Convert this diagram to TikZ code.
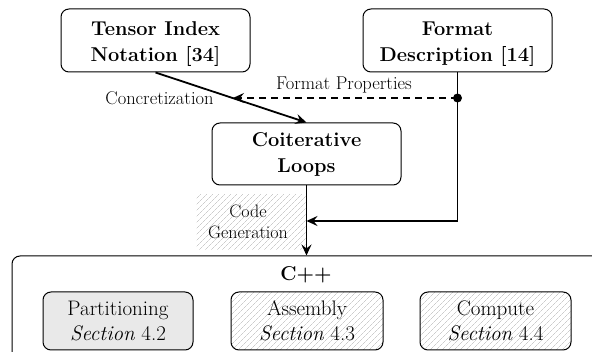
\documentclass[tikz,border=0pt]{standalone}
\usepackage{fontspec}
\usetikzlibrary{arrows.meta,patterns.meta}
\begin{document}
\begin{tikzpicture}[x=1pt,y=-1pt,
  box/.style={draw, rounded corners=8pt, line width=1pt, align=center, inner sep=0pt},
  bigbox/.style={box, minimum width=189pt, minimum height=63pt},
  bigtext/.style={align=center, inner sep=0pt, font=\fontsize{20}{26.5}\selectfont\bfseries},
  subbox/.style={box, minimum height=58pt, font=\fontsize{21}{24.5}\selectfont},
  hatch/.style={pattern={Lines[angle=45,distance=4pt,line width=0.45pt]}, pattern color=gray!60},
  lbl/.style={font=\fontsize{18.5}{21}\selectfont, inner sep=0pt},
  arr/.style={line width=1.8pt, -{Stealth[length=11pt,width=10pt,inset=4pt]}},
]
\clip (0,0) rectangle (592,352);
\fill[white] (0,0) rectangle (592,352);

\node[bigbox] (tin) at (155.5,40.5) {};
\node[bigtext] (tint) at (155.5,44) {Tensor Index\\Notation [34]};
\node[bigbox] (fd) at (457.5,40.5) {};
\node[bigtext] (fdt) at (457.5,44) {Format\\Description [14]};
\node[bigbox, minimum height=62pt] (cl) at (306.5,154) {};
\node[bigtext] (clt) at (306.5,154.5) {Coiterative\\Loops};

\node[hatch, minimum width=109pt, minimum height=55pt, inner sep=0pt] (cg) at (251,222.5) {};
\node[lbl, align=center, font=\fontsize{18}{21}\selectfont] (cgt) at (248,221.5) {Code\\Generation};

\node[box, minimum width=600pt, minimum height=170pt] (cpp) at (312,341) {};
\node[inner sep=0pt, font=\fontsize{20}{23}\selectfont\bfseries] (cpplbl) at (306,274.5) {C++};

\node[subbox, fill=gray!17, minimum width=150pt] (part) at (118,321) {Partitioning\\\textit{Section} 4.2};
\node[subbox, hatch, minimum width=152pt] (asm) at (307,321) {Assembly\\\textit{Section} 4.3};
\node[subbox, hatch, minimum width=151pt] (comp) at (495.5,321) {Compute\\\textit{Section} 4.4};

\coordinate (j) at (fd.south |- 0,98);
\coordinate (dt) at (233,98);
\coordinate (m) at (fd.south |- 0,221);
\coordinate (mt) at (cl.south |- 0,221);

\draw[arr] (tin.south) -- (cl.north);
\draw[arr, dashed, dash pattern=on 7pt off 5pt] (j) -- (dt);
\draw[line width=1.8pt] (fd.south) -- (j);
\draw[arr] (j) -- (m) -- (mt);
\draw[arr] (cl.south) -- (cl.south |- cpp.north);
\fill (j) circle (4.5pt);

\node[lbl] (fp) at (344,84.5) {Format Properties};
\node[lbl] (cz) at (159.5,98.5) {Concretization};
\end{tikzpicture}
\end{document}
